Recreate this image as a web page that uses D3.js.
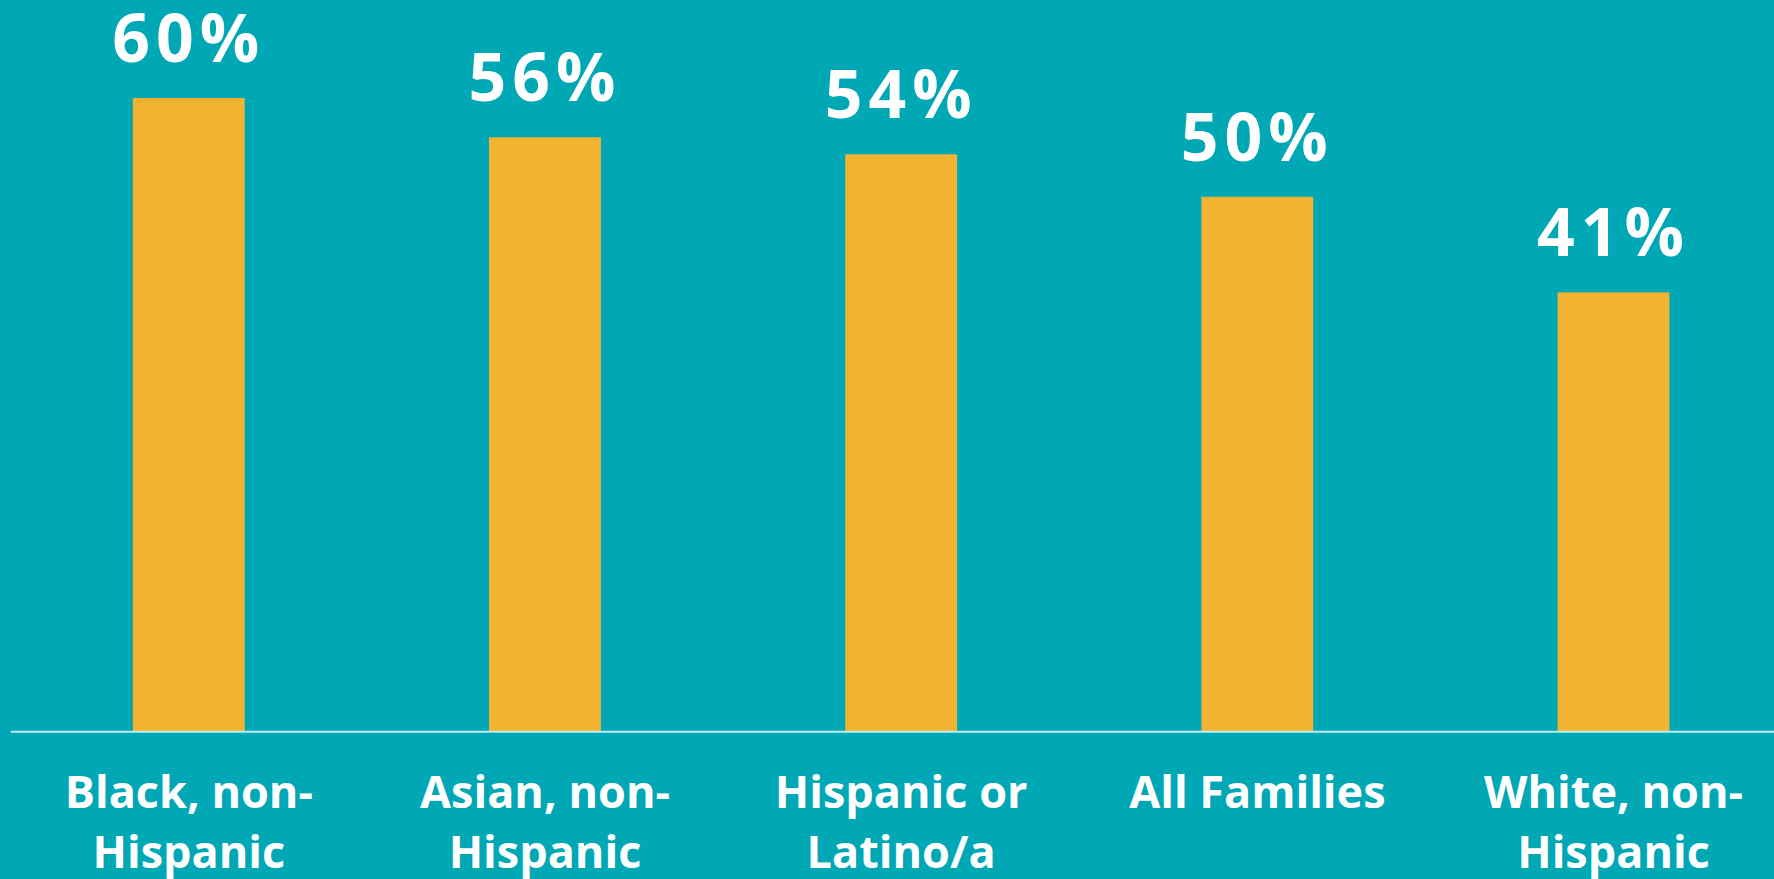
<!DOCTYPE html>
<html>
<head>
<meta charset="utf-8">
<script src="https://cdn.jsdelivr.net/npm/d3@7"></script>
<style>
  html, body { margin: 0; padding: 0; background: #00a7b5; }
  svg { display: block; }
  .value { font-family: "Open Sans", sans-serif; font-weight: 700; fill: #fff; }
  .cat { font-family: "Open Sans", sans-serif; font-weight: 700; fill: #fff; }
</style>
</head>
<body>
<svg id="chart" width="1774" height="879"></svg>
<script>
var categories = ["Black, non-\nHispanic", "Asian, non-\nHispanic", "Hispanic or\nLatino/a", "All Families", "White, non-\nHispanic"];
var values = [59.6, 55.9, 54.3, 50.3, 41.3];
var valueLabels = ["60%", "56%", "54%", "50%", "41%"];

function drawChart() {
    var svg = d3.select("#chart"),
        width = +svg.attr("width"),
        height = +svg.attr("height"),
        baseline = 731;

    var data = categories.map(function(c, i) {
        return {cat: c, value: values[i], label: valueLabels[i]};
    });

    var x = d3.scaleBand()
        .domain(categories)
        .range([10.7, 1791.6])
        .paddingInner(0.686)
        .paddingOuter(0.343);

    var y = d3.scaleLinear()
        .domain([0, 60])
        .range([baseline, baseline - 637.2]);

    svg.append("rect")
        .attr("width", width)
        .attr("height", height)
        .attr("fill", "#00a7b5");

    svg.selectAll(".bar")
        .data(data)
        .enter().append("rect")
        .attr("class", "bar")
        .attr("x", function(d) { return x(d.cat); })
        .attr("y", function(d) { return y(d.value); })
        .attr("width", x.bandwidth())
        .attr("height", function(d) { return baseline - y(d.value); })
        .attr("fill", "#f3b331");

    svg.selectAll(".value")
        .data(data)
        .enter().append("text")
        .attr("class", "value")
        .attr("x", function(d) { return x(d.cat) + x.bandwidth() / 2; })
        .attr("y", function(d) { return y(d.value) - 36; })
        .attr("text-anchor", "middle")
        .style("font-size", "66px")
        .style("letter-spacing", "6px")
        .text(function(d) { return d.label; });

    // baseline axis, no ticks
    var axis = svg.append("g")
        .attr("transform", "translate(0," + (baseline + 0.7) + ")")
        .call(d3.axisBottom(x).tickSize(0).tickFormat(""));
    axis.select(".domain")
        .attr("d", "M10.7,0H" + width)
        .attr("stroke", "#bdebf0")
        .attr("stroke-width", 2);

    var labels = svg.selectAll(".cat")
        .data(data)
        .enter().append("text")
        .attr("class", "cat")
        .attr("text-anchor", "middle")
        .style("font-size", "45px")
        .attr("transform", function(d) {
            return "translate(" + (x(d.cat) + x.bandwidth() / 2) + ",808)";
        });

    labels.selectAll("tspan")
        .data(function(d) { return d.cat.split("\n"); })
        .enter().append("tspan")
        .attr("x", 0)
        .attr("y", function(d, i) { return i * 60; })
        .text(function(d) { return d; });
}

drawChart();
</script>
</body>
</html>
